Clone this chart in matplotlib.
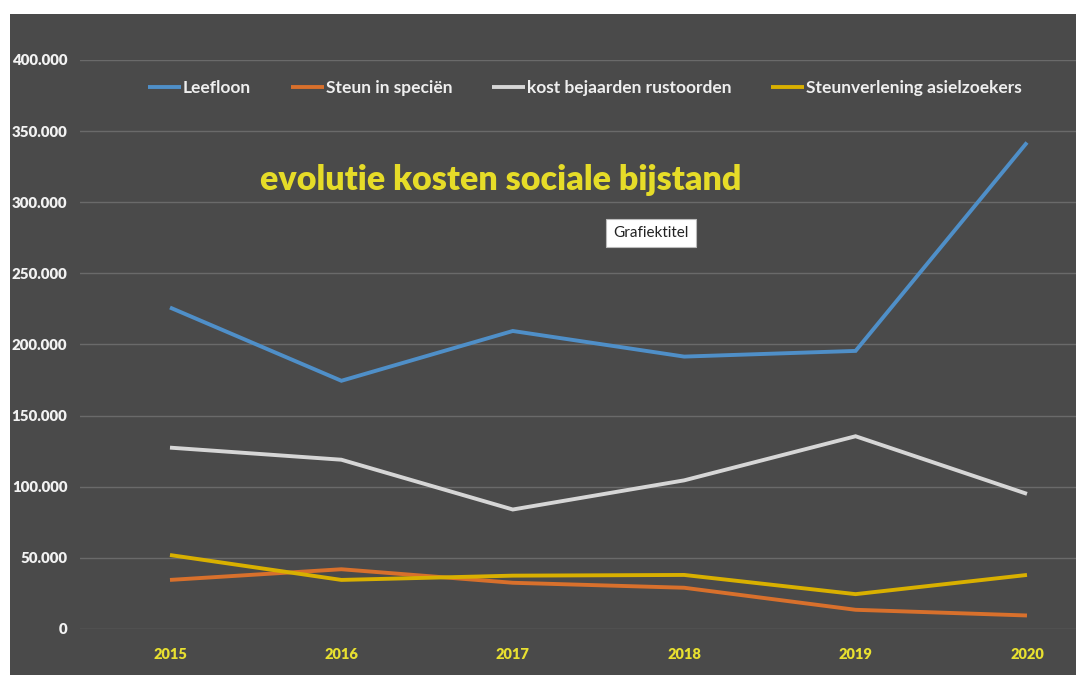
import matplotlib
matplotlib.use("Agg")
import matplotlib.pyplot as plt

years = ["2015", "2016", "2017", "2018", "2019", "2020"]
leefloon = [226000, 174500, 209500, 191500, 195500, 342000]
steun_specien = [34500, 42000, 32500, 29000, 13500, 9500]
kost_bejaarden = [127500, 119000, 84000, 104500, 135500, 95000]
steunverlening = [52000, 34500, 37500, 38000, 24500, 38000]

series_names = ["Leefloon", "Steun in speciën", "kost bejaarden rustoorden",
                "Steunverlening asielzoekers"]
series_values = [leefloon, steun_specien, kost_bejaarden, steunverlening]
series_colors = ["#4f8fc8", "#d8702c", "#d6d6d6", "#d9b000"]

yticks = [0, 50000, 100000, 150000, 200000, 250000, 300000, 350000, 400000]
ytick_labels = ["0", "50.000", "100.000", "150.000", "200.000", "250.000",
                "300.000", "350.000", "400.000"]

W, H = 1076, 675
fig = plt.figure(figsize=(W / 100, H / 100), dpi=100, facecolor="white")
plt.rcParams["font.family"] = ["Lato", "DejaVu Sans"]

# dark chart-area background
bg = fig.add_axes([10 / W, 0, 1 - 10 / W, 1 - 14 / H])
bg.set_facecolor("#4a4a4a")
bg.set_xticks([]); bg.set_yticks([])
for s in bg.spines.values():
    s.set_visible(False)

ax = fig.add_axes([80 / W, (H - 629) / H, 996 / W, 569 / H])
ax.set_facecolor("none")
x = list(range(len(years)))
for name, vals, col in zip(series_names, series_values, series_colors):
    ax.plot(x, vals, color=col, lw=2.8, label=name, solid_capstyle="butt",
            solid_joinstyle="miter")

ax.set_xlim(-0.525, 5.286)
ax.set_ylim(0, 400000)
ax.set_yticks(yticks)
ax.set_yticklabels(ytick_labels)
ax.set_xticks(x)
ax.set_xticklabels(years)
ax.grid(axis="y", color="#6a6a6a", lw=1.0)
ax.set_axisbelow(True)
ax.tick_params(axis="y", length=0, pad=9, labelsize=10.8, labelcolor="#f2f2f2")
ax.tick_params(axis="x", length=0, pad=14, labelsize=10.5, labelcolor="#e8e030")
for lab in ax.get_yticklabels() + ax.get_xticklabels():
    lab.set_fontweight("heavy")
for s in ax.spines.values():
    s.set_visible(False)

leg = fig.legend(loc="center", bbox_to_anchor=(585 / W, 1 - 88 / H), ncol=4,
                 frameon=False, handlelength=1.9, handletextpad=0.1,
                 columnspacing=2.3, prop={"weight": "bold", "size": 12.5})
for t in leg.get_texts():
    t.set_color("#eeeeee")

fig.text(501 / W, 1 - 180 / H, "evolutie kosten sociale bijstand",
         ha="center", va="center", fontsize=24.5, fontweight="heavy",
         color="#e6dc28")
fig.text(651 / W, 1 - 233 / H, "Grafiektitel", ha="center", va="center",
         fontsize=11, color="#222222",
         bbox=dict(boxstyle="square,pad=0.45", fc="white", ec="#bbbbbb", lw=0.8))

fig.savefig("out.png", dpi=100, facecolor="white")
